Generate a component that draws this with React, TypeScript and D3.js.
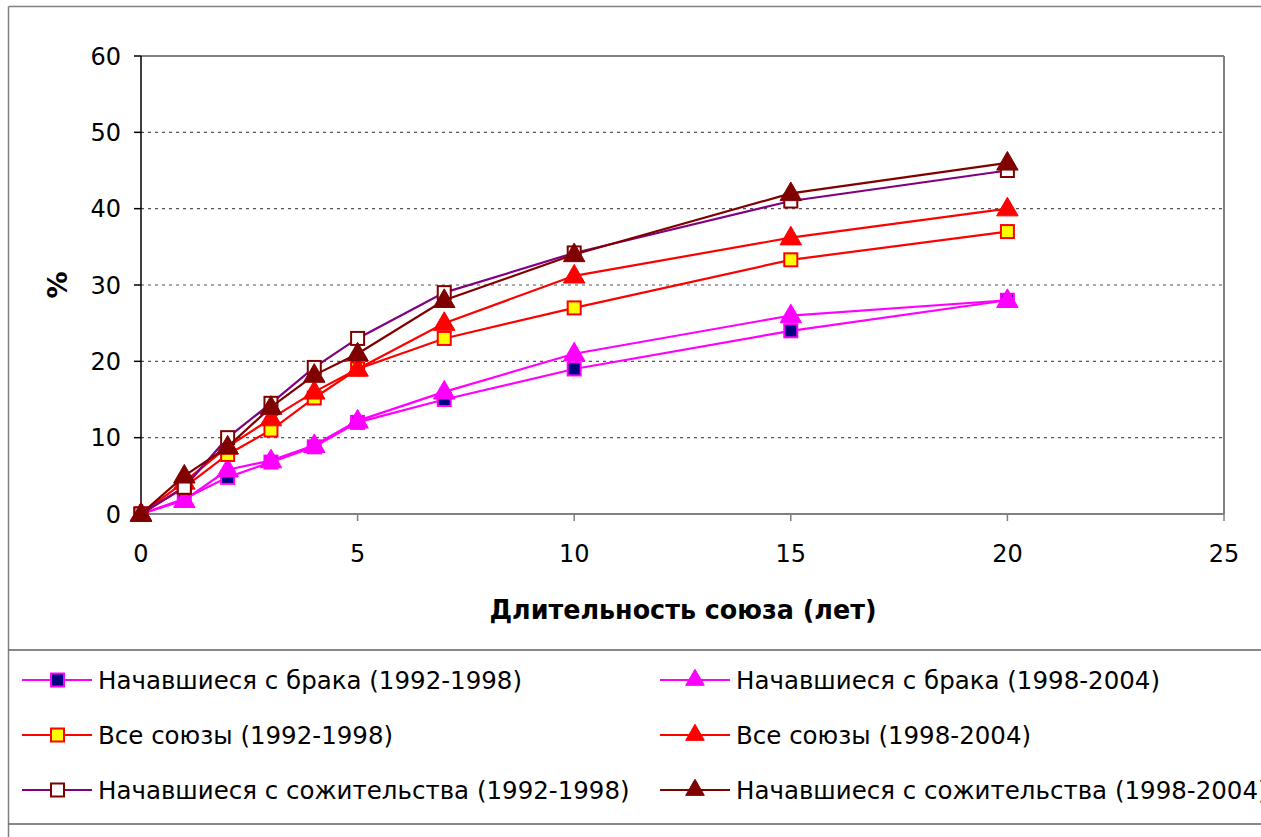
import React from "react";
import * as d3 from "d3";

const xValues = [0, 1, 2, 3, 4, 5, 7, 10, 15, 20];
const brak92 = [0, 2, 4.8, 6.8, 8.8, 12, 15, 19, 24, 28];
const brak98 = [0, 1.8, 5.8, 7, 9, 12.2, 16, 21, 26, 28];
const all92 = [0, 3.5, 7.8, 11, 15.2, 19, 23, 27, 33.3, 37];
const all98 = [0, 4.2, 8.8, 12.5, 16, 19, 25, 31.2, 36.2, 40];
const coh92 = [0, 3.5, 10, 14.5, 19.2, 23, 29, 34.2, 41, 45];
const coh98 = [0, 5, 8.8, 14, 18.2, 21, 28, 34, 42, 46];
const seriesNames = [
  "Начавшиеся с брака (1992-1998)",
  "Начавшиеся с брака (1998-2004)",
  "Все союзы (1992-1998)",
  "Все союзы (1998-2004)",
  "Начавшиеся с сожительства (1992-1998)",
  "Начавшиеся с сожительства (1998-2004)",
];
const xTicks = [0, 5, 10, 15, 20, 25];
const yTicks = [0, 10, 20, 30, 40, 50, 60];
const xTitle = "Длительность союза (лет)";
const yTitle = "%";

type Style = { line: string; marker: "square" | "triangle"; fill: string; stroke: string };
const styles: Style[] = [
  { line: "#ff00ff", marker: "square", fill: "#000080", stroke: "#ff00ff" },
  { line: "#ff00ff", marker: "triangle", fill: "#ff00ff", stroke: "#ff00ff" },
  { line: "#ff0000", marker: "square", fill: "#ffff00", stroke: "#ff0000" },
  { line: "#ff0000", marker: "triangle", fill: "#ff0000", stroke: "#ff0000" },
  { line: "#800080", marker: "square", fill: "#ffffff", stroke: "#800000" },
  { line: "#800000", marker: "triangle", fill: "#800000", stroke: "#800000" },
];

const FONT = "'DejaVu Sans', Verdana, sans-serif";

function Marker({ x, y, s }: { x: number; y: number; s: Style }) {
  if (s.marker === "square") {
    return <rect x={x - 6.5} y={y - 6.5} width={13} height={13} fill={s.fill} stroke={s.stroke} strokeWidth={2} />;
  }
  const tri = d3.symbol(d3.symbolTriangle, 200)();
  return <path d={tri as string} transform={`translate(${x},${y + 1})`} fill={s.fill} stroke={s.stroke} strokeWidth={1} />;
}

export default function App() {
  const W = 1261, H = 837;
  const x = d3.scaleLinear().domain([0, 25]).range([141, 1224]);
  const y = d3.scaleLinear().domain([0, 60]).range([514, 56]);
  const data = [brak92, brak98, all92, all98, coh92, coh98];
  const line = d3.line<number>().x((_, i) => x(xValues[i])).y((v) => y(v));

  const legendCols = [22, 660];
  const legendRows = [680, 735, 790];

  return (
    <svg width={W} height={H} style={{ position: "absolute", left: 0, top: 0, background: "#fff" }} fontFamily={FONT}>
      <rect x={0} y={0} width={W} height={H} fill="#fff" />
      {/* outer border */}
      <line x1={8.5} y1={6.5} x2={W} y2={6.5} stroke="#808080" strokeWidth={1.5} />
      <line x1={8.5} y1={6.5} x2={8.5} y2={H} stroke="#808080" strokeWidth={1.5} />
      {/* gridlines */}
      {yTicks.filter((t) => t > 0 && t < 60).map((t) => (
        <line key={t} x1={141} x2={1224} y1={y(t)} y2={y(t)} stroke="#555" strokeWidth={1.2} strokeDasharray="3,4" />
      ))}
      {/* plot border */}
      <line x1={141} x2={1224} y1={y(60)} y2={y(60)} stroke="#808080" strokeWidth={2} />
      <line x1={1224} x2={1224} y1={y(60)} y2={y(0)} stroke="#808080" strokeWidth={2} />
      <line x1={141} x2={1224} y1={y(0)} y2={y(0)} stroke="#808080" strokeWidth={2} />
      <line x1={141} x2={141} y1={y(60)} y2={y(0)} stroke="#000" strokeWidth={1.5} />
      {/* y ticks */}
      {yTicks.map((t) => (
        <g key={t}>
          <line x1={134} x2={141} y1={y(t)} y2={y(t)} stroke="#000" strokeWidth={1.5} />
          <text x={121} y={y(t)} dy="0.36em" textAnchor="end" fontSize={24} fill="#000">{t}</text>
        </g>
      ))}
      {/* x ticks */}
      {xTicks.map((t) => (
        <g key={t}>
          <line x1={x(t)} x2={x(t)} y1={y(0)} y2={y(0) + 7} stroke="#808080" strokeWidth={1.5} />
          <text x={x(t)} y={562} textAnchor="middle" fontSize={24} fill="#000">{t}</text>
        </g>
      ))}
      <text x={683} y={619} textAnchor="middle" fontSize={27} fontWeight="bold" fill="#000" textLength={387} lengthAdjust="spacingAndGlyphs">{xTitle}</text>
      <text transform="translate(67,285) rotate(-90)" textAnchor="middle" fontSize={27} fontWeight="bold" fill="#000">{yTitle}</text>
      {/* series */}
      {data.map((vals, si) => (
        <g key={si}>
          <path d={line(vals) as string} fill="none" stroke={styles[si].line} strokeWidth={2.2} />
          {vals.map((v, i) => (
            <Marker key={i} x={x(xValues[i])} y={y(v)} s={styles[si]} />
          ))}
        </g>
      ))}
      {/* legend */}
      <line x1={8.5} x2={W} y1={650} y2={650} stroke="#606060" strokeWidth={1.5} />
      <line x1={8.5} x2={W} y1={824} y2={824} stroke="#606060" strokeWidth={1.5} />
      {seriesNames.map((name, i) => {
        const col = i % 2;
        const row = Math.floor(i / 2);
        const lx = legendCols[col];
        const ly = legendRows[row];
        const s = styles[i];
        return (
          <g key={i}>
            <line x1={lx} x2={lx + 70} y1={ly} y2={ly} stroke={s.line} strokeWidth={2} />
            {s.marker === "square" ? (
              <rect x={lx + 29} y={ly - 6.5} width={13} height={13} fill={s.fill} stroke={s.stroke} strokeWidth={2} />
            ) : (
              <path d={d3.symbol(d3.symbolTriangle, 150)() as string} transform={`translate(${lx + 35},${ly})`} fill={s.fill} stroke={s.stroke} />
            )}
            <text x={lx + 76} y={ly} dy="0.36em" fontSize={24.5} fill="#000">{name}</text>
          </g>
        );
      })}
    </svg>
  );
}
